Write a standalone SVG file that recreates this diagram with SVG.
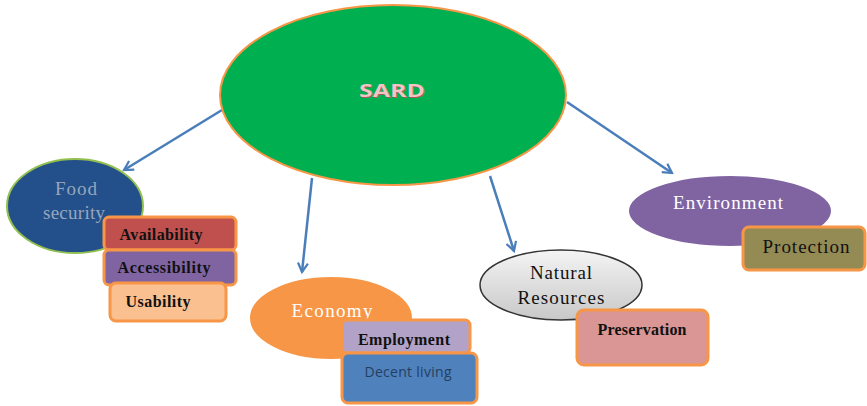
<svg xmlns="http://www.w3.org/2000/svg" width="867" height="406" viewBox="0 0 867 406">
<defs>
<marker id="ah" viewBox="0 0 12 12" refX="10" refY="6" markerWidth="12" markerHeight="12" markerUnits="userSpaceOnUse" orient="auto">
<path d="M1,1 L10,6 L1,11" fill="none" stroke="#4a7ebb" stroke-width="2.2"/>
</marker>
<linearGradient id="gray" x1="0" y1="0" x2="0" y2="1">
<stop offset="0" stop-color="#f4f4f4"/><stop offset="1" stop-color="#c8c8c8"/>
</linearGradient>
</defs>
<style>
.conn{stroke:#4a7ebb;stroke-width:2.5;fill:none;marker-end:url(#ah)}
.box{stroke:#f79646;stroke-width:3}
.lbl{font-family:"Liberation Serif",serif;text-anchor:middle}
.bt{font-family:"Liberation Serif",serif;font-weight:bold;font-size:16px;text-anchor:middle;fill:#111}
</style>
<rect width="867" height="406" fill="#ffffff"/>
<g id="connectors">
<line class="conn" x1="222" y1="110" x2="124" y2="170"/>
<line class="conn" x1="312" y1="178" x2="302" y2="272"/>
<line class="conn" x1="490" y1="176" x2="514" y2="251"/>
<line class="conn" x1="567" y1="102" x2="672" y2="173"/>
</g>
<g id="sard">
<ellipse cx="393" cy="95" rx="173" ry="90" fill="#00b050" stroke="#f79646" stroke-width="2"/>
<text x="392.7" y="97.7" font-family="Open Sans, sans-serif" font-weight="bold" font-size="18" text-anchor="middle" fill="#a35a5a" textLength="66" lengthAdjust="spacingAndGlyphs">SARD</text>
<text x="392" y="97" font-family="Open Sans, sans-serif" font-weight="bold" font-size="18" text-anchor="middle" fill="#f2c4c4" textLength="66" lengthAdjust="spacingAndGlyphs">SARD</text>
</g>
<g id="food">
<ellipse cx="75" cy="206" rx="68" ry="47" fill="#23508a" stroke="#92c050" stroke-width="2"/>
<text class="lbl" x="76" y="195" font-size="19" fill="#97a6bd" textLength="42" lengthAdjust="spacing">Food</text>
<text class="lbl" x="74" y="219" font-size="19" fill="#97a6bd" textLength="62" lengthAdjust="spacing">security</text>
</g>
<g id="availability">
<rect class="box" x="104" y="217" width="132" height="33" rx="5" fill="#c0504d"/>
<text class="bt" x="161" y="240" textLength="83" lengthAdjust="spacing">Availability</text>
</g>
<g id="accessibility">
<rect class="box" x="104" y="250" width="132" height="35" rx="5" fill="#8064a2"/>
<text class="bt" x="164" y="273" textLength="93" lengthAdjust="spacing">Accessibility</text>
</g>
<g id="usability">
<rect class="box" x="110" y="283" width="116" height="38" rx="6" fill="#fac090"/>
<text class="bt" x="158" y="307" textLength="65" lengthAdjust="spacing">Usability</text>
</g>
<g id="economy">
<ellipse cx="331" cy="318" rx="82" ry="42" fill="#f79646" stroke="#ffffff" stroke-width="2"/>
<text class="lbl" x="332" y="317" font-size="19" fill="#ffffff" textLength="81" lengthAdjust="spacing">Economy</text>
</g>
<g id="employment">
<rect class="box" x="342" y="320" width="128" height="33" rx="5" fill="#b3a2c7"/>
<text class="bt" x="404" y="345" textLength="92" lengthAdjust="spacing">Employment</text>
</g>
<g id="decent">
<rect class="box" x="342" y="353" width="135" height="50" rx="6" fill="#4f81bd"/>
<text x="408" y="377" font-family="Open Sans, sans-serif" font-size="14" text-anchor="middle" fill="#243f60" textLength="87" lengthAdjust="spacing">Decent living</text>
</g>
<g id="natural">
<ellipse cx="561" cy="285" rx="81" ry="35" fill="url(#gray)" stroke="#333333" stroke-width="1.5"/>
<text class="lbl" x="561" y="279" font-size="19" fill="#111" textLength="62" lengthAdjust="spacing">Natural</text>
<text class="lbl" x="561" y="304" font-size="19" fill="#111" textLength="87" lengthAdjust="spacing">Resources</text>
</g>
<g id="preservation">
<rect class="box" x="577" y="310" width="131" height="55" rx="7" fill="#d99694"/>
<text class="bt" x="642" y="335" textLength="89" lengthAdjust="spacing">Preservation</text>
</g>
<g id="environment">
<ellipse cx="730" cy="211" rx="102" ry="36" fill="#8064a2" stroke="#ffffff" stroke-width="2"/>
<text class="lbl" x="728" y="209" font-size="19" fill="#ffffff" textLength="110" lengthAdjust="spacing">Environment</text>
</g>
<g id="protection">
<rect class="box" x="743" y="227" width="122" height="43" rx="6" fill="#948a54"/>
<text class="lbl" x="806" y="253" font-size="19" fill="#111" textLength="87" lengthAdjust="spacing">Protection</text>
</g>
</svg>
